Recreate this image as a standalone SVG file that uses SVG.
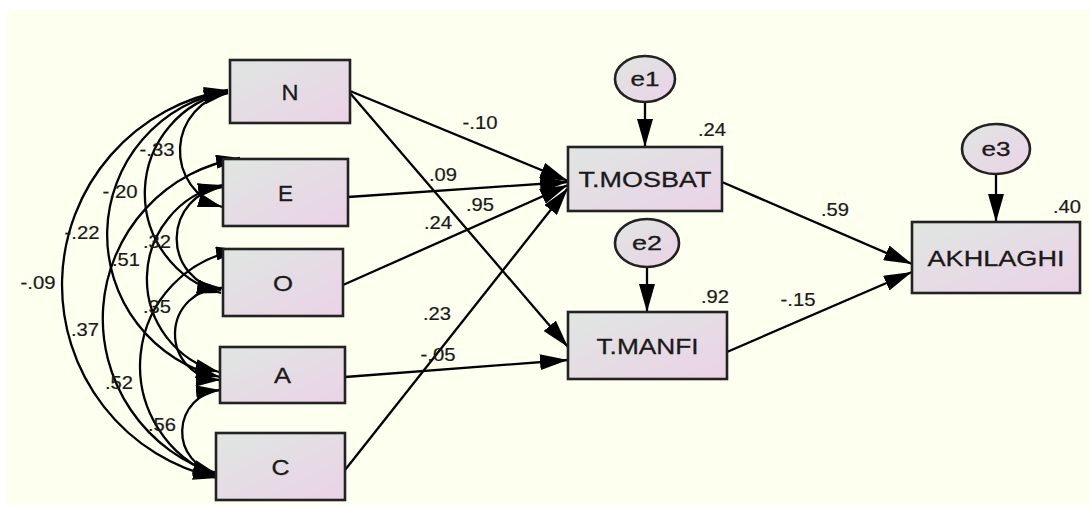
<svg xmlns="http://www.w3.org/2000/svg" width="1090" height="505" viewBox="0 0 1090 505">
<defs>
<linearGradient id="fill" x1="0" y1="0" x2="1" y2="1">
<stop offset="0" stop-color="#DFE6E1"/>
<stop offset="1" stop-color="#EBD2E7"/>
</linearGradient>
<marker id="ah" viewBox="0 0 28 16" refX="28" refY="8" markerWidth="28" markerHeight="16" orient="auto" markerUnits="userSpaceOnUse">
<path d="M0,0 L28,8 L0,16 z" fill="#000"/>
</marker>
<marker id="ch" viewBox="0 0 24 14" refX="24" refY="7" markerWidth="24" markerHeight="14" orient="auto-start-reverse" markerUnits="userSpaceOnUse">
<path d="M0,0 L24,7 L0,14 z" fill="#000"/>
</marker>
<style>
.box{fill:url(#fill);stroke:#222;stroke-width:2.6}
.lbl{font-family:"Liberation Sans",Arial,sans-serif;font-size:22px;fill:#1a1a1a;text-anchor:middle;stroke:#1a1a1a;stroke-width:0.3}
.elb{font-family:"Liberation Sans",Arial,sans-serif;font-size:20px;fill:#1a1a1a;text-anchor:middle;stroke:#1a1a1a;stroke-width:0.3}
.num{font-family:"Liberation Sans",Arial,sans-serif;font-size:17.5px;fill:#1a1a1a;text-anchor:middle;stroke:#1a1a1a;stroke-width:0.2}
.path{fill:none;stroke:#000;stroke-width:2.3;marker-end:url(#ah)}
.cov{fill:none;stroke:#000;stroke-width:2.3;marker-start:url(#ch);marker-end:url(#ch)}
</style>
</defs>
<rect x="0" y="0" width="1090" height="505" fill="#FFFFFF"/>
<rect x="7" y="10" width="1083" height="495" fill="#FDFFEF"/>

<g id="connectors">
<path class="cov" d="M228,93 A58.7,58.7 0 0 0 222,207"/>
<path class="cov" d="M228,92 A103.3,103.3 0 0 0 221,293"/>
<path class="cov" d="M228,91 A146,146 0 0 0 220,377"/>
<path class="cov" d="M228,90 A197.6,197.6 0 0 0 217,478"/>
<path class="cov" d="M222,187 A52,52 0 0 0 221,290"/>
<path class="cov" d="M222,185 A96.2,96.2 0 0 0 219,372"/>
<path class="cov" d="M240,158 A162.7,162.7 0 0 0 217,474"/>
<path class="cov" d="M222,288 A46,46 0 0 0 220,380"/>
<path class="cov" d="M240,250 A117.2,117.2 0 0 0 217,476"/>
<path class="cov" d="M220,390 A41.9,41.9 0 0 0 217,473"/>
<line class="path" x1="645" y1="103" x2="645" y2="147"/>
<line class="path" x1="647" y1="267" x2="647" y2="312"/>
<line class="path" x1="996" y1="174" x2="996" y2="222"/>
<line class="path" x1="350" y1="91" x2="568" y2="181"/>
<line class="path" x1="350" y1="93" x2="568" y2="347"/>
<line class="path" x1="348" y1="197" x2="568" y2="182"/>
<line class="path" x1="343" y1="285" x2="568" y2="185"/>
<line class="path" x1="345" y1="470" x2="568" y2="188"/>
<line class="path" x1="345" y1="377" x2="568" y2="360"/>
<line class="path" x1="722" y1="182" x2="912" y2="264"/>
<line class="path" x1="727" y1="352" x2="912" y2="272"/>
</g>

<g id="labels">
<text class="num" x="712" y="136" textLength="28" lengthAdjust="spacingAndGlyphs">.24</text>
<text class="num" x="715" y="303" textLength="28" lengthAdjust="spacingAndGlyphs">.92</text>
<text class="num" x="1067" y="213" textLength="28" lengthAdjust="spacingAndGlyphs">.40</text>
<text class="num" x="835" y="216" textLength="28" lengthAdjust="spacingAndGlyphs">.59</text>
<text class="num" x="798" y="306" textLength="35" lengthAdjust="spacingAndGlyphs">-.15</text>
<text class="num" x="480" y="129" textLength="35" lengthAdjust="spacingAndGlyphs">-.10</text>
<text class="num" x="443" y="181" textLength="28" lengthAdjust="spacingAndGlyphs">.09</text>
<text class="num" x="480" y="211" textLength="28" lengthAdjust="spacingAndGlyphs">.95</text>
<text class="num" x="438" y="229" textLength="28" lengthAdjust="spacingAndGlyphs">.24</text>
<text class="num" x="437" y="320" textLength="28" lengthAdjust="spacingAndGlyphs">.23</text>
<text class="num" x="438" y="361" textLength="35" lengthAdjust="spacingAndGlyphs">-.05</text>
<text class="num" x="157" y="156" textLength="35" lengthAdjust="spacingAndGlyphs">-.33</text>
<text class="num" x="120" y="198" textLength="35" lengthAdjust="spacingAndGlyphs">-.20</text>
<text class="num" x="82" y="239" textLength="35" lengthAdjust="spacingAndGlyphs">-.22</text>
<text class="num" x="38" y="289" textLength="35" lengthAdjust="spacingAndGlyphs">-.09</text>
<text class="num" x="157" y="248" textLength="28" lengthAdjust="spacingAndGlyphs">.32</text>
<text class="num" x="126" y="266" textLength="28" lengthAdjust="spacingAndGlyphs">.51</text>
<text class="num" x="85" y="336" textLength="28" lengthAdjust="spacingAndGlyphs">.37</text>
<text class="num" x="157" y="313" textLength="28" lengthAdjust="spacingAndGlyphs">.35</text>
<text class="num" x="119" y="389" textLength="28" lengthAdjust="spacingAndGlyphs">.52</text>
<text class="num" x="162" y="431" textLength="28" lengthAdjust="spacingAndGlyphs">.56</text>
</g>

<g id="node-N"><rect class="box" x="230" y="60" width="120" height="63"/><text class="lbl" x="290" y="99.5" textLength="17" lengthAdjust="spacingAndGlyphs">N</text></g>
<g id="node-E"><rect class="box" x="223" y="159" width="125" height="67"/><text class="lbl" x="285.5" y="200.5" textLength="15" lengthAdjust="spacingAndGlyphs">E</text></g>
<g id="node-O"><rect class="box" x="223" y="249" width="120" height="67"/><text class="lbl" x="283" y="290.5" textLength="20" lengthAdjust="spacingAndGlyphs">O</text></g>
<g id="node-A"><rect class="box" x="220" y="347" width="125" height="56"/><text class="lbl" x="282.5" y="383" textLength="17" lengthAdjust="spacingAndGlyphs">A</text></g>
<g id="node-C"><rect class="box" x="216" y="433" width="129" height="67"/><text class="lbl" x="280.5" y="474.5" textLength="18" lengthAdjust="spacingAndGlyphs">C</text></g>
<g id="node-TMOSBAT"><rect class="box" x="568" y="147" width="154" height="64"/><text class="lbl" x="645" y="187" textLength="133" lengthAdjust="spacingAndGlyphs">T.MOSBAT</text></g>
<g id="node-TMANFI"><rect class="box" x="568" y="312" width="159" height="67"/><text class="lbl" x="647.5" y="353.5" textLength="102" lengthAdjust="spacingAndGlyphs">T.MANFI</text></g>
<g id="node-AKHLAGHI"><rect class="box" x="912" y="222" width="168" height="71"/><text class="lbl" x="996" y="265.5" textLength="137" lengthAdjust="spacingAndGlyphs">AKHLAGHI</text></g>
<g id="node-e1"><ellipse class="box" cx="645" cy="79" rx="30" ry="23"/><text class="elb" x="645" y="86" textLength="29" lengthAdjust="spacingAndGlyphs">e1</text></g>
<g id="node-e2"><ellipse class="box" cx="647" cy="243" rx="32" ry="24"/><text class="elb" x="647" y="250" textLength="30" lengthAdjust="spacingAndGlyphs">e2</text></g>
<g id="node-e3"><ellipse class="box" cx="996" cy="149" rx="34" ry="25"/><text class="elb" x="996" y="156" textLength="29" lengthAdjust="spacingAndGlyphs">e3</text></g>
</svg>
